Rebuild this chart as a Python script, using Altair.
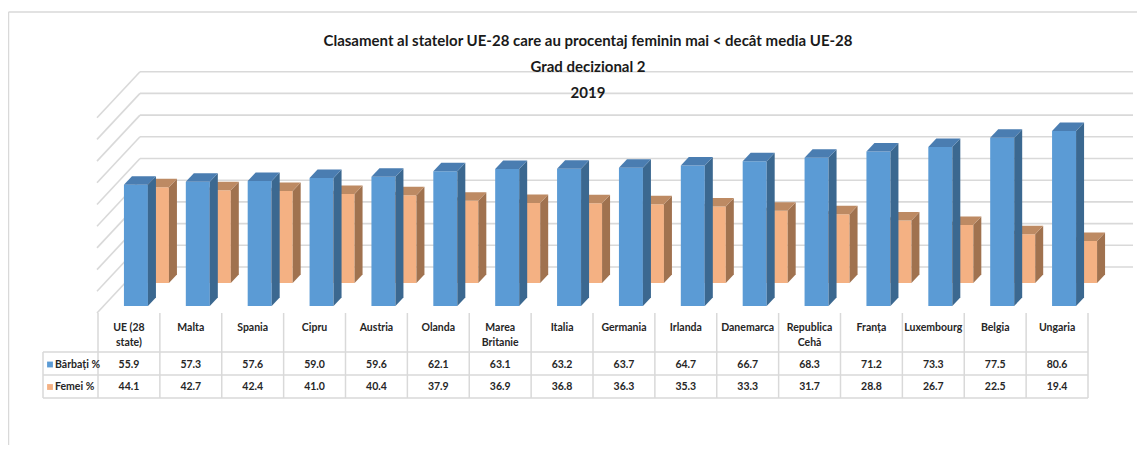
import altair as alt
import pandas as pd

# ---------------- data ----------------
title_lines = [
    "Clasament al statelor UE-28 care au procentaj feminin mai < decât media UE-28",
    "Grad decizional 2",
    "2019",
]
header_line1 = ["UE (28", "Malta", "Spania", "Cipru", "Austria", "Olanda", "Marea", "Italia",
                "Germania", "Irlanda", "Danemarca", "Republica", "Franța", "Luxembourg", "Belgia", "Ungaria"]
header_line2 = ["state)", "", "", "", "", "", "Britanie", "", "", "", "", "Cehă", "", "", "", ""]
series_names = ["Bărbați %", "Femei %"]
barbati = [55.9, 57.3, 57.6, 59.0, 59.6, 62.1, 63.1, 63.2, 63.7, 64.7, 66.7, 68.3, 71.2, 73.3, 77.5, 80.6]
femei = [44.1, 42.7, 42.4, 41.0, 40.4, 37.9, 36.9, 36.8, 36.3, 35.3, 33.3, 31.7, 28.8, 26.7, 22.5, 19.4]
grid_values = [0, 10, 20, 30, 40, 50, 60, 70, 80, 90]

# ---------------- layout / style ----------------
W, H = 1129, 437
OX, OY = 8, 8
COL0, COL_W = 98.0, 61.875       # table start (page px), column width
BASE, K = 306.0, 2.17            # front-row baseline (page px), px per percentage point
BAR_SHIFT, BAR_W = 7.0, 24.0
DEPTH_DX, DEPTH_DY = 8.0, 8.5
ROW_DX, ROW_DY = 21.0, 23.0
WALL_DY = 39.0
WALL_X0, WALL_X1 = 140.0, 1133.0
SIDE_X0 = 97.0
SIDE_DY = 46.0
FONT = "Lato, Roboto, sans-serif"
TXT = "#262626"
GRID = "#D9D9D9"
COLORS = [
    {"front": "#5B9BD5", "side": "#3B6890", "top": "#4A7DB1"},
    {"front": "#F4B183", "side": "#A0724F", "top": "#BD8A63"},
]
TABLE_FS = 10.5
TITLE_FS = 15


def u(page_x):
    return (page_x - COL0) / COL_W


def vy(page_y):
    return (BASE - page_y) / K


def px(page_x):
    return page_x - OX


def py(page_y):
    return page_y - OY


xs = alt.Scale(domain=[u(OX), u(OX + W)], nice=False, zero=False)
ys = alt.Scale(domain=[vy(OY + H), vy(OY)], nice=False, zero=False)


def X(f):
    return alt.X(f, type="quantitative", scale=xs, axis=None)


def Y(f):
    return alt.Y(f, type="quantitative", scale=ys, axis=None, stack=None)


# ---------------- walls ----------------
wall_rows = []
for g in grid_values:
    wall_rows.append({"x": u(WALL_X0), "x2": u(WALL_X1), "y": g + WALL_DY / K, "y2": g + WALL_DY / K})
    wall_rows.append({"x": u(SIDE_X0), "x2": u(WALL_X0), "y": g + (WALL_DY - SIDE_DY) / K, "y2": g + WALL_DY / K})
walls = alt.Chart(pd.DataFrame(wall_rows)).mark_rule(color=GRID, strokeWidth=1.6).encode(
    x=X("x"), x2=alt.X2("x2"), y=Y("y"), y2=alt.Y2("y2"))

# ---------------- 3D bars ----------------
bar_layers = []
for s in [1, 0]:
    vals = [barbati, femei][s]
    fr, sd, tp = [], [], []
    for i, v in enumerate(vals):
        cx = i + 0.5 + (BAR_SHIFT + s * ROW_DX) / COL_W
        hw = BAR_W / 2 / COL_W
        x0, x1 = cx - hw, cx + hw
        yb = s * ROW_DY / K
        yt = yb + v
        ddx, ddy = DEPTH_DX / COL_W, DEPTH_DY / K
        fr.append({"x0": x0, "x1": x1, "yb": yb, "yt": yt})
        sd.append({"id": i, "x": x1, "lo": yb, "hi": yt})
        sd.append({"id": i, "x": x1 + ddx, "lo": yb + ddy, "hi": yt + ddy})
        tp.append({"id": i, "y": yt, "l": x0, "r": x1})
        tp.append({"id": i, "y": yt + ddy, "l": x0 + ddx, "r": x1 + ddx})
    c = COLORS[s]
    front = alt.Chart(pd.DataFrame(fr)).mark_rect(color=c["front"]).encode(
        x=X("x0"), x2=alt.X2("x1"), y=Y("yb"), y2=alt.Y2("yt"))
    side = alt.Chart(pd.DataFrame(sd)).mark_area(orient="vertical", color=c["side"], opacity=1).encode(
        x=X("x"), y=Y("lo"), y2=alt.Y2("hi"), detail="id:N")
    top = alt.Chart(pd.DataFrame(tp)).mark_area(orient="horizontal", color=c["top"], opacity=1).encode(
        y=Y("y"), x=X("l"), x2=alt.X2("r"), detail="id:N")
    bar_layers += [front, side, top]

# ---------------- data table ----------------
n = len(header_line1)
tl = []
for k in range(n + 1):
    tl.append({"x": k, "x2": k, "y": vy(313), "y2": vy(398)})
tl.append({"x": u(43), "x2": u(43), "y": vy(352), "y2": vy(398)})
for yy in [352, 375, 398]:
    tl.append({"x": u(43), "x2": n, "y": vy(yy), "y2": vy(yy)})
table_lines = alt.Chart(pd.DataFrame(tl)).mark_rule(color=GRID, strokeWidth=1.5).encode(
    x=X("x"), x2=alt.X2("x2"), y=Y("y"), y2=alt.Y2("y2"))

tdf = pd.DataFrame({
    "cx": [i + 0.5 for i in range(n)],
    "l1": header_line1,
    "l2": header_line2,
    "b": [f"{v:.1f}" for v in barbati],
    "f": [f"{v:.1f}" for v in femei],
})
tbase = alt.Chart(tdf)
tstyle = dict(font=FONT, fontSize=TABLE_FS, fontWeight="bold", color=TXT, align="center", baseline="middle")
hdr1 = tbase.mark_text(**tstyle).encode(x=X("cx"), y=alt.value(py(328)), text="l1:N")
hdr2 = tbase.mark_text(**tstyle).encode(x=X("cx"), y=alt.value(py(343)), text="l2:N")
row1 = tbase.mark_text(**tstyle).encode(x=X("cx"), y=alt.value(py(365)), text="b:N")
row2 = tbase.mark_text(**tstyle).encode(x=X("cx"), y=alt.value(py(387)), text="f:N")

one = alt.Data(values=[{"a": 1}])
legend_layers = []
for s, yy in [(0, 364.5), (1, 387)]:
    legend_layers.append(alt.Chart(one).mark_square(size=34, filled=True, opacity=1, color=COLORS[s]["front"]).encode(
        x=alt.value(px(50)), y=alt.value(py(yy))))
    legend_layers.append(alt.Chart(one).mark_text(font=FONT, fontSize=TABLE_FS, fontWeight="bold", color=TXT,
                                                  align="left", baseline="middle", text=series_names[s]).encode(
        x=alt.value(px(55)), y=alt.value(py(yy))))

# ---------------- title ----------------
title_layers = []
for line, yy in zip(title_lines, [41, 67, 93]):
    title_layers.append(alt.Chart(one).mark_text(font=FONT, fontSize=TITLE_FS, fontWeight="bold", color="#1a1a1a",
                                                 align="center", baseline="middle", text=line).encode(
        x=alt.value(px(588)), y=alt.value(py(yy))))

# ---------------- outer border ----------------
border = [
    alt.Chart(one).mark_rule(color=GRID, strokeWidth=1.5).encode(
        x=alt.value(px(8.5)), x2=alt.value(W), y=alt.value(py(12)), y2=alt.value(py(12))),
    alt.Chart(one).mark_rule(color=GRID, strokeWidth=1.5).encode(
        x=alt.value(px(8.5)), x2=alt.value(px(8.5)), y=alt.value(py(12)), y2=alt.value(H)),
]

chart = alt.layer(
    *border, walls, *bar_layers, table_lines, hdr1, hdr2, row1, row2, *legend_layers, *title_layers
).properties(width=W, height=H, autosize="none", padding=0, background="white").configure_view(stroke=None)

chart.save("out.html", embed_options={"renderer": "svg", "actions": False})
